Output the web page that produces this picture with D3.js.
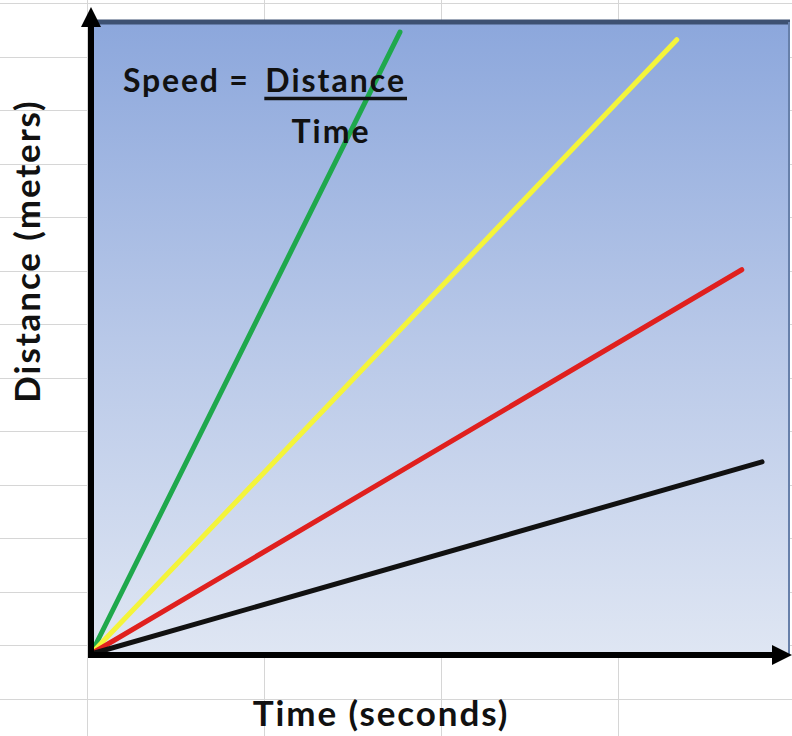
<!DOCTYPE html>
<html>
<head>
<meta charset="utf-8">
<script src="https://cdn.jsdelivr.net/npm/d3@7"></script>
<style>
  html, body { margin: 0; padding: 0; background: #fff; }
  svg { display: block; font-family: Lato, "Open Sans", sans-serif; }
</style>
</head>
<body>
<svg id="chart" width="792" height="736"></svg>
<script>
// speed lines, all starting at the origin (time 0, distance 0)
const seriesNames = ["Green", "Yellow", "Red", "Black"];
const endTimes = [44.2, 83.8, 93.1, 96.0];
const endDistances = [98.4, 97.2, 60.8, 30.4];

const COLORS = ["#1fa84c", "#f4f43a", "#e0201e", "#111111"];

const WIDTH = 792;
const HEIGHT = 736;
const PLOT = { left: 91, top: 22, right: 790, bottom: 655 };

const svg = d3.select("#chart");

// spreadsheet grid behind the chart
const grid = svg.append("g").attr("stroke", "#d6d6d6").attr("stroke-width", 1);
grid
  .selectAll(".h-grid")
  .data(d3.range(3, HEIGHT, 53.5))
  .join("line")
  .attr("x1", 0)
  .attr("x2", WIDTH)
  .attr("y1", (d) => Math.round(d) + 0.5)
  .attr("y2", (d) => Math.round(d) + 0.5);
grid
  .selectAll(".v-grid")
  .data(d3.range(87, WIDTH + 1, 177))
  .join("line")
  .attr("y1", 0)
  .attr("y2", HEIGHT)
  .attr("x1", (d) => Math.round(d) + 0.5)
  .attr("x2", (d) => Math.round(d) + 0.5);

const defs = svg.append("defs");
const grad = defs
  .append("linearGradient")
  .attr("id", "bg")
  .attr("x1", 0)
  .attr("y1", 0)
  .attr("x2", 0)
  .attr("y2", 1);
grad.append("stop").attr("offset", "0%").attr("stop-color", "#8ca7dc");
grad.append("stop").attr("offset", "50%").attr("stop-color", "#b8c8e8");
grad.append("stop").attr("offset", "100%").attr("stop-color", "#dfe6f3");

defs
  .append("marker")
  .attr("id", "arrow")
  .attr("viewBox", "0 0 10 10")
  .attr("refX", 2)
  .attr("refY", 5)
  .attr("markerUnits", "userSpaceOnUse")
  .attr("markerWidth", 20)
  .attr("markerHeight", 20)
  .attr("orient", "auto")
  .append("path")
  .attr("d", "M0,0 L10,5 L0,10 Z")
  .attr("fill", "#000");

// plot background
svg
  .append("rect")
  .attr("x", PLOT.left)
  .attr("y", PLOT.top)
  .attr("width", PLOT.right - PLOT.left)
  .attr("height", PLOT.bottom - PLOT.top)
  .attr("fill", "url(#bg)");

svg
  .append("line")
  .attr("x1", PLOT.left)
  .attr("x2", PLOT.right)
  .attr("y1", PLOT.top)
  .attr("y2", PLOT.top)
  .attr("stroke", "#3d5172")
  .attr("stroke-width", 5);

svg
  .append("line")
  .attr("x1", PLOT.right - 1)
  .attr("x2", PLOT.right - 1)
  .attr("y1", PLOT.top)
  .attr("y2", PLOT.bottom)
  .attr("stroke", "#6780aa")
  .attr("stroke-width", 2);

const x = d3.scaleLinear().domain([0, 100]).range([PLOT.left, PLOT.right]);
const y = d3.scaleLinear().domain([0, 100]).range([PLOT.bottom - 1, PLOT.top]);

const line = d3
  .line()
  .x((d) => x(d[0]))
  .y((d) => y(d[1]));

const lineData = seriesNames.map((name, i) => ({
  name,
  color: COLORS[i],
  points: [
    [0, 0],
    [endTimes[i], endDistances[i]],
  ],
}));

svg
  .append("g")
  .selectAll(".speed-line")
  .data(lineData)
  .join("path")
  .attr("class", "speed-line")
  .attr("d", (d) => line(d.points))
  .attr("fill", "none")
  .attr("stroke", (d) => d.color)
  .attr("stroke-width", 5)
  .attr("stroke-linecap", "round");

// axes: plain thick lines with arrow heads, no ticks
svg
  .append("line")
  .attr("x1", x(0))
  .attr("y1", PLOT.bottom + 3)
  .attr("x2", x(0))
  .attr("y2", 23)
  .attr("stroke", "#000")
  .attr("stroke-width", 6)
  .attr("marker-end", "url(#arrow)");

svg
  .append("line")
  .attr("x1", x(0) - 3)
  .attr("y1", PLOT.bottom)
  .attr("x2", 776)
  .attr("y2", PLOT.bottom)
  .attr("stroke", "#000")
  .attr("stroke-width", 6)
  .attr("marker-end", "url(#arrow)");

// formula
const textStyle = (sel, size, spacing) =>
  sel
    .attr("font-size", size)
    .attr("font-weight", "bold")
    .attr("letter-spacing", spacing)
    .attr("fill", "#111");

svg.append("text").attr("x", 123).attr("y", 92).call(textStyle, 32, 1.8).text("Speed =");

const numer = svg
  .append("text")
  .attr("x", 406)
  .attr("y", 92)
  .attr("text-anchor", "end")
  .call(textStyle, 32, 2)
  .text("Distance");

const nb = numer.node().getBBox();
svg
  .append("line")
  .attr("x1", nb.x - 1)
  .attr("x2", 407)
  .attr("y1", 98.5)
  .attr("y2", 98.5)
  .attr("stroke", "#111")
  .attr("stroke-width", 3.5);

svg
  .append("text")
  .attr("x", 331)
  .attr("y", 143)
  .attr("text-anchor", "middle")
  .call(textStyle, 32, 2)
  .text("Time");

// axis titles
svg
  .append("text")
  .attr("x", 381)
  .attr("y", 726)
  .attr("text-anchor", "middle")
  .call(textStyle, 35, 1.9)
  .text("Time (seconds)");

svg
  .append("text")
  .attr("transform", "translate(40,251) rotate(-90)")
  .attr("text-anchor", "middle")
  .call(textStyle, 35, 1.9)
  .text("Distance (meters)");
</script>
</body>
</html>
